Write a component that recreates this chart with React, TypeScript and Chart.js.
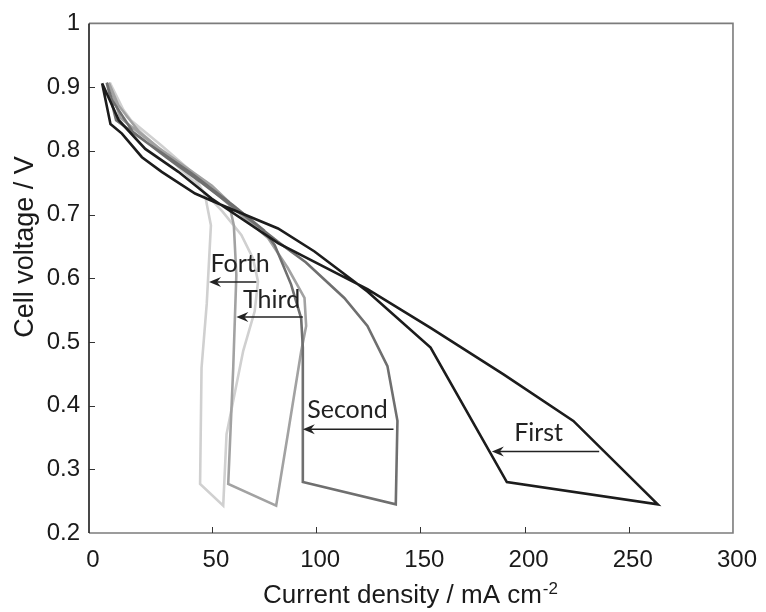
import { useEffect, useRef } from "react";
import { Chart, registerables } from "chart.js";

Chart.register(...registerables);

// ---- data (current density mA cm^-2, cell voltage V) ----
const firstX = [-2.7, 1.3, 6.8, 16.4, 25.9, 41.9, 54.6, 81.7, 99.2, 124.6, 154.9, 191.5, 263.9, 223.4, 189.9, 154.9, 124.6, 81.7, 49.8, 33.9, 18.0, 5.3, -2.7];
const firstY = [0.906, 0.842, 0.827, 0.79, 0.767, 0.733, 0.715, 0.678, 0.642, 0.579, 0.491, 0.28, 0.245, 0.376, 0.449, 0.522, 0.583, 0.655, 0.725, 0.767, 0.803, 0.848, 0.906];

const secondX = [-0.5, 4, 20, 40, 60, 75, 80.1, 88, 92.8, 93.6, 93.6, 138.2, 139, 134.2, 124.6, 113.5, 95, 81.7, 65, 45, 28, 12, 2, -0.5];
const secondY = [0.907, 0.848, 0.81, 0.765, 0.715, 0.675, 0.652, 0.59, 0.537, 0.491, 0.28, 0.245, 0.376, 0.462, 0.525, 0.569, 0.625, 0.657, 0.7, 0.75, 0.79, 0.83, 0.88, 0.907];

const thirdX = [0.5, 6, 20, 35, 50, 58, 60.5, 61.7, 60.2, 57.8, 80.8, 86.4, 92.8, 95.2, 94.4, 86.4, 76.9, 62, 46, 30, 15, 5, 0.5];
const thirdY = [0.907, 0.852, 0.815, 0.78, 0.745, 0.72, 0.683, 0.605, 0.459, 0.277, 0.243, 0.355, 0.485, 0.525, 0.569, 0.616, 0.663, 0.705, 0.75, 0.79, 0.83, 0.872, 0.907];

const forthX = [1.0, 9.2, 25.9, 40.3, 46.7, 49.5, 47.5, 45.0, 44.3, 55.4, 57.0, 65.0, 70.5, 72.1, 69.7, 64.1, 55, 42, 28, 14, 4, 1.0];
const forthY = [0.907, 0.853, 0.808, 0.767, 0.73, 0.683, 0.56, 0.459, 0.277, 0.243, 0.355, 0.486, 0.548, 0.595, 0.631, 0.668, 0.705, 0.75, 0.792, 0.835, 0.88, 0.907];

const seriesNames = ["First", "Second", "Third", "Forth"];
const seriesColors = ["#1c1c1c", "#6f6f6f", "#a2a2a2", "#d0d0d0"];

// axes
const X_MIN = -9;
const X_MAX = 300;
const xTickValues = [X_MIN, 50, 100, 150, 200, 250, 300];
const xTickLabels = ["0", "50", "100", "150", "200", "250", "300"];
const Y_MIN = 0.2;
const Y_MAX = 1;
const yTickValues = [0.2, 0.3, 0.4, 0.5, 0.6, 0.7, 0.8, 0.9, 1];
const yTickLabels = ["0.2", "0.3", "0.4", "0.5", "0.6", "0.7", "0.8", "0.9", "1"];
const xInnerTicks = [50, 100, 150, 200, 250];
const yInnerTicks = [0.3, 0.4, 0.5, 0.6, 0.7, 0.8, 0.9];

// annotations (arrows + labels), in data coordinates
const annoText = ["First", "Second", "Third", "Forth"];
const annoTextX = [195, 95.7, 64.9, 49.3];
const annoTextY = [0.344, 0.38, 0.554, 0.609];
const arrowFromX = [235.8, 137.1, 93.6, 71.3];
const arrowToX = [184.3, 93.6, 61.7, 48.6];
const arrowY = [0.328, 0.363, 0.539, 0.594];

const xTitle = "Current density / mA cm";
const xTitleSup = "-2";
const yTitle = "Cell voltage / V";

const TICK_FONT = "'Liberation Sans', Arial, sans-serif";
const ANNO_FONT = "Lato, 'Liberation Sans', sans-serif";

const toPoints = (xs: number[], ys: number[]) => xs.map((x, i) => ({ x, y: ys[i] }));

const decorPlugin = {
  id: "decor",
  afterDraw(chart: any) {
    const { ctx, chartArea: a, scales } = chart;
    const x = scales.x;
    const y = scales.y;
    ctx.save();
    // frame
    ctx.lineWidth = 1.6;
    ctx.strokeStyle = "#7c7c7c";
    ctx.beginPath();
    ctx.moveTo(a.left, a.top);
    ctx.lineTo(a.right, a.top);
    ctx.lineTo(a.right, a.bottom);
    ctx.lineTo(a.left, a.bottom);
    ctx.stroke();
    ctx.strokeStyle = "#1a1a1a";
    ctx.beginPath();
    ctx.moveTo(a.left, a.top);
    ctx.lineTo(a.left, a.bottom);
    ctx.stroke();
    // inward ticks
    ctx.lineWidth = 1;
    ctx.strokeStyle = "#333";
    ctx.beginPath();
    xInnerTicks.forEach((v) => {
      const px = Math.round(x.getPixelForValue(v)) + 0.5;
      ctx.moveTo(px, a.bottom);
      ctx.lineTo(px, a.bottom - 6);
    });
    yInnerTicks.forEach((v) => {
      const py = Math.round(y.getPixelForValue(v)) + 0.5;
      ctx.moveTo(a.left, py);
      ctx.lineTo(a.left + 6, py);
    });
    ctx.stroke();

    // arrows and labels
    ctx.fillStyle = "#222";
    ctx.strokeStyle = "#222";
    ctx.font = `25px ${ANNO_FONT}`;
    ctx.textAlign = "left";
    ctx.textBaseline = "alphabetic";
    annoText.forEach((t, i) => {
      const x0 = x.getPixelForValue(arrowFromX[i]);
      const x1 = x.getPixelForValue(arrowToX[i]);
      const py = y.getPixelForValue(arrowY[i]);
      ctx.lineWidth = 1.5;
      ctx.beginPath();
      ctx.moveTo(x0, py);
      ctx.lineTo(x1 + 6, py);
      ctx.stroke();
      ctx.beginPath();
      ctx.moveTo(x1, py);
      ctx.lineTo(x1 + 12, py - 5);
      ctx.lineTo(x1 + 8, py);
      ctx.lineTo(x1 + 12, py + 5);
      ctx.closePath();
      ctx.fill();
      ctx.fillText(t, x.getPixelForValue(annoTextX[i]), y.getPixelForValue(annoTextY[i]));
    });

    // axis titles
    ctx.fillStyle = "#1a1a1a";
    ctx.font = `26px ${TICK_FONT}`;
    const mainW = ctx.measureText(xTitle).width;
    const startX = 263;
    ctx.fillText(xTitle, startX, 603);
    ctx.font = `17px ${TICK_FONT}`;
    ctx.fillText(xTitleSup, startX + mainW + 1, 594);

    ctx.font = `27px ${TICK_FONT}`;
    ctx.translate(33, 247);
    ctx.rotate(-Math.PI / 2);
    ctx.textAlign = "center";
    ctx.fillText(yTitle, 0, 0);
    ctx.restore();
  },
};

export default function App() {
  const canvasRef = useRef<HTMLCanvasElement | null>(null);

  useEffect(() => {
    const canvas = canvasRef.current;
    if (!canvas) return;
    const allX = [firstX, secondX, thirdX, forthX];
    const allY = [firstY, secondY, thirdY, forthY];
    const chart = new Chart(canvas, {
      type: "line",
      data: {
        datasets: seriesNames.map((name, i) => ({
          label: name,
          data: toPoints(allX[i], allY[i]),
          borderColor: seriesColors[i],
          backgroundColor: seriesColors[i],
          borderWidth: 2.6,
          pointRadius: 0,
          tension: 0,
          fill: false,
          borderJoinStyle: "miter" as const,
        })),
      },
      options: {
        responsive: false,
        animation: false,
        devicePixelRatio: 1,
        layout: { padding: { left: 0, top: 21, right: 29, bottom: 0 } },
        plugins: {
          legend: { display: false },
          tooltip: { enabled: false },
          title: { display: false },
        },
        scales: {
          x: {
            type: "linear",
            min: X_MIN,
            max: X_MAX,
            afterBuildTicks: (s: any) => {
              s.ticks = xTickValues.map((v) => ({ value: v }));
            },
            afterFit: (s: any) => {
              s.height = 79;
            },
            grid: { display: false, drawTicks: false },
            border: { display: false },
            ticks: {
              autoSkip: false,
              maxRotation: 0,
              padding: 13,
              labelOffset: 4,
              color: "#1a1a1a",
              font: { family: TICK_FONT, size: 24 },
              callback: (_v: any, i: number) => xTickLabels[i],
            },
          },
          y: {
            type: "linear",
            min: Y_MIN,
            max: Y_MAX,
            afterBuildTicks: (s: any) => {
              s.ticks = yTickValues.map((v) => ({ value: v }));
            },
            afterFit: (s: any) => {
              s.width = 89;
            },
            grid: { display: false, drawTicks: false },
            border: { display: false },
            ticks: {
              autoSkip: false,
              padding: 9,
              color: "#1a1a1a",
              font: { family: TICK_FONT, size: 24 },
              callback: (_v: any, i: number) => yTickLabels[i],
            },
          },
        },
      },
      plugins: [decorPlugin],
    });
    return () => chart.destroy();
  }, []);

  return (
    <div style={{ position: "fixed", left: 0, top: 0, width: 766, height: 612, background: "#fff" }}>
      <canvas ref={canvasRef} width={766} height={612} style={{ width: 766, height: 612, display: "block" }} />
    </div>
  );
}
